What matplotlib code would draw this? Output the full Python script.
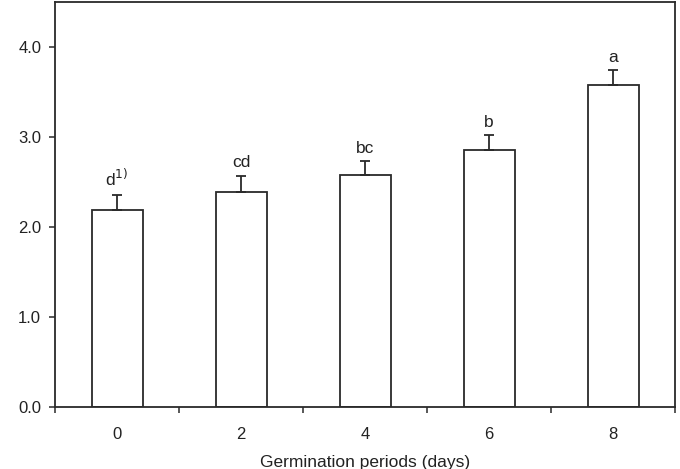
import matplotlib.pyplot as plt
import numpy as np

plt.rcParams['font.family'] = ['Liberation Sans', 'DejaVu Sans']

# data
days = ['0', '2', '4', '6', '8']
means = [2.19, 2.39, 2.58, 2.86, 3.58]
errs = [0.17, 0.18, 0.15, 0.16, 0.16]
letters = ['d$^{1)}$', 'cd', 'bc', 'b', 'a']
yticks = [0.0, 1.0, 2.0, 3.0, 4.0]

fig = plt.figure(figsize=(6.8, 4.69), dpi=100)
ax = fig.add_axes([0.081, 0.132, 0.912, 0.864])

x = np.arange(len(days))
edge = '#2a2a2a'
ax.bar(x, means, width=0.41, color='white', edgecolor=edge, linewidth=1.3)
ax.errorbar(x, means, yerr=[[0] * len(errs), errs], fmt='none',
            ecolor=edge, elinewidth=1.3, capsize=3.8, capthick=1.3)

for xi, m, e, lab in zip(x, means, errs, letters):
    ax.annotate(lab, (xi, m + e), xytext=(0, 4), textcoords='offset points',
                ha='center', va='bottom', fontsize=12.5, color='#222222')

ax.set_xlim(-0.5, len(days) - 0.5)
ax.set_ylim(0, 4.5)

# ticks between bars, labels at bar centres
ax.set_xticks(np.arange(-0.5, len(days), 1.0))
ax.set_xticklabels([])
ax.set_xticks(x, minor=True)
ax.set_xticklabels(days, minor=True)
ax.tick_params(axis='x', which='major', direction='out', length=4, width=1.1, color=edge)
ax.tick_params(axis='x', which='minor', length=0, pad=14, labelsize=12, labelcolor='#222222')

ax.set_yticks(yticks)
ax.set_yticklabels(['%.1f' % v for v in yticks])
ax.tick_params(axis='y', direction='out', length=4, width=1.1, color=edge,
               labelsize=12, labelcolor='#222222', pad=6)

for s in ax.spines.values():
    s.set_color(edge)
    s.set_linewidth(1.3)

ax.set_xlabel('Germination periods (days)', fontsize=12.5, color='#222222', labelpad=10)

fig.savefig('out.png', dpi=100)
